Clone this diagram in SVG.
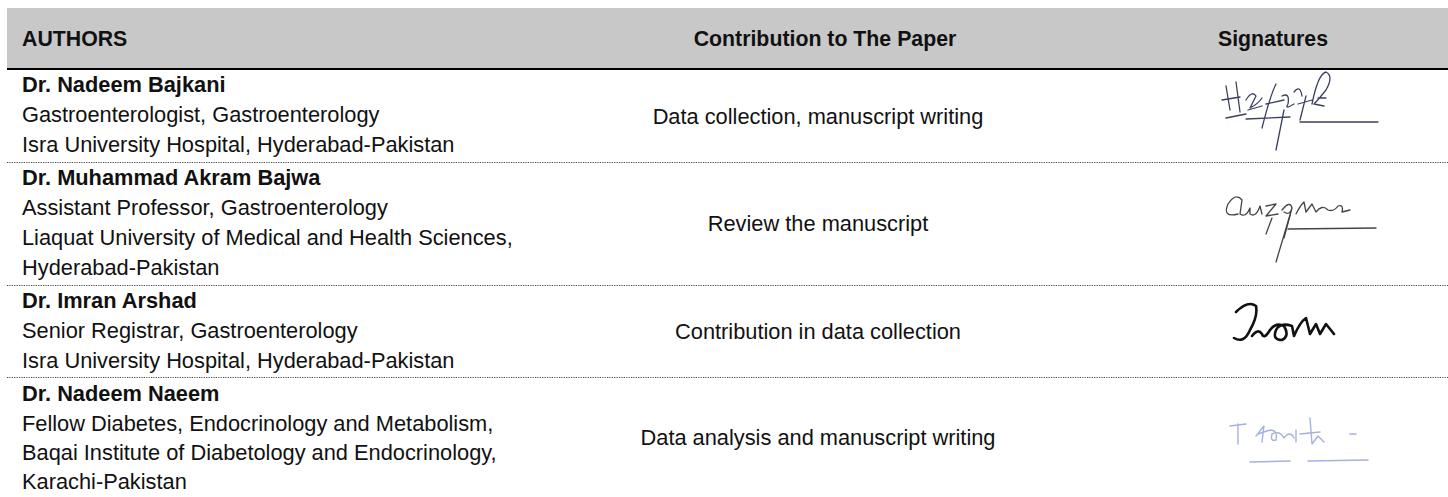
<svg xmlns="http://www.w3.org/2000/svg" width="1448" height="497" viewBox="0 0 1448 497">
<style>
text{font-family:"Liberation Sans",Arial,sans-serif;font-size:21.8px;fill:#111}
.b{font-weight:bold}
.h{font-weight:bold;font-size:21.3px}
.c{text-anchor:middle}
.dot{stroke:#444;stroke-width:1;stroke-dasharray:1.2 1.2}
.sig{fill:none;stroke-linecap:round;stroke-linejoin:round}
</style>
<rect x="0" y="0" width="1448" height="497" fill="#fff"/>
<g id="header">
<rect x="7" y="8" width="1441" height="60" fill="#c8c8c8"/>
<line x1="7" y1="69" x2="1448" y2="69" stroke="#000" stroke-width="2"/>
<text class="h" x="22" y="46">AUTHORS</text>
<text class="h c" x="825" y="46">Contribution to The Paper</text>
<text class="h c" x="1273" y="46">Signatures</text>
</g>
<g id="connectors">
<line class="dot" x1="7" y1="162.5" x2="1448" y2="162.5"/>
<line class="dot" x1="7" y1="285.5" x2="1448" y2="285.5"/>
<line class="dot" x1="7" y1="377.5" x2="1448" y2="377.5"/>
</g>
<g id="row1">
<text class="b" x="22" y="92">Dr. Nadeem Bajkani</text>
<text x="22" y="122">Gastroenterologist, Gastroenterology</text>
<text x="22" y="152">Isra University Hospital, Hyderabad-Pakistan</text>
<text class="c" x="818" y="124">Data collection, manuscript writing</text>
<g class="sig" stroke="#3c4060" stroke-width="1.3">
<path d="M1226 86 L1230 110 M1222 100 L1240 97 M1236 82 L1240 112 M1226 118 L1246 114"/>
<path d="M1246 100 Q1252 90 1256 96 L1250 108 Q1258 104 1262 98 M1248 110 L1262 106"/>
<path d="M1262 128 Q1270 96 1276 84 M1266 104 L1284 100 M1276 150 L1284 110 M1282 96 Q1290 92 1288 104 Q1284 110 1294 104"/>
<path d="M1294 92 Q1300 84 1302 96 M1298 104 L1312 100 M1306 96 L1300 120 M1312 104 Q1318 74 1326 72 Q1334 76 1326 90 Q1318 100 1314 104 L1324 106 M1318 98 L1326 98"/>
<path d="M1246 119 L1290 117 M1300 122 L1378 122"/>
</g>
</g>
<g id="row2">
<text class="b" x="22" y="185">Dr. Muhammad Akram Bajwa</text>
<text x="22" y="215">Assistant Professor, Gastroenterology</text>
<text x="22" y="245">Liaquat University of Medical and Health Sciences,</text>
<text x="22" y="275">Hyderabad-Pakistan</text>
<text class="c" x="818" y="231">Review the manuscript</text>
<g class="sig" stroke="#444" stroke-width="1.3">
<path d="M1238 214 Q1222 218 1228 204 Q1236 192 1242 200 L1240 214 Q1246 218 1250 208 L1250 214 Q1256 218 1260 206 L1262 214"/>
<path d="M1266 206 L1276 204 L1266 216 L1278 214 M1272 218 L1266 234 M1282 210 Q1290 200 1292 208 Q1290 216 1284 212 M1292 208 L1284 238"/>
<path d="M1296 214 Q1300 206 1304 202 L1306 212 L1312 204 L1316 212 Q1322 204 1328 210 Q1334 212 1338 206 Q1344 204 1342 212 L1350 210"/>
<path d="M1288 229 L1376 228 M1290 215 L1276 262"/>
</g>
</g>
<g id="row3">
<text class="b" x="22" y="308">Dr. Imran Arshad</text>
<text x="22" y="338">Senior Registrar, Gastroenterology</text>
<text x="22" y="368">Isra University Hospital, Hyderabad-Pakistan</text>
<text class="c" x="818" y="339">Contribution in data collection</text>
<g class="sig" stroke="#111" stroke-width="2.6">
<path d="M1236 312 Q1248 300 1256 306 Q1258 316 1250 330 Q1244 344 1234 338 M1252 336 Q1258 328 1262 334 Q1264 340 1270 330 Q1276 322 1284 326 Q1290 336 1282 340 Q1272 340 1276 330 Q1280 322 1292 326 L1294 336 Q1300 322 1306 318 L1310 334 L1316 324 L1320 334 L1326 324 L1334 334"/>
</g>
</g>
<g id="row4">
<text class="b" x="22" y="401">Dr. Nadeem Naeem</text>
<text x="22" y="431">Fellow Diabetes, Endocrinology and Metabolism,</text>
<text x="22" y="460">Baqai Institute of Diabetology and Endocrinology,</text>
<text x="22" y="489">Karachi-Pakistan</text>
<text class="c" x="818" y="445">Data analysis and manuscript writing</text>
<g class="sig" stroke="#8a96d8" stroke-width="1.4" opacity="0.75">
<path d="M1230 426 L1246 424 M1238 424 L1238 444"/>
<path d="M1256 436 L1264 426 L1262 442 M1258 434 L1270 430 Q1278 430 1276 440 Q1270 442 1272 434 Q1280 430 1284 438 Q1290 430 1294 438 M1296 430 L1296 442 M1300 434 L1320 432 M1310 418 L1312 444 L1318 436 L1324 442 M1350 434 L1356 434"/>
<path d="M1250 462 L1290 461 M1308 461 L1368 460"/>
</g>
</g>
</svg>
